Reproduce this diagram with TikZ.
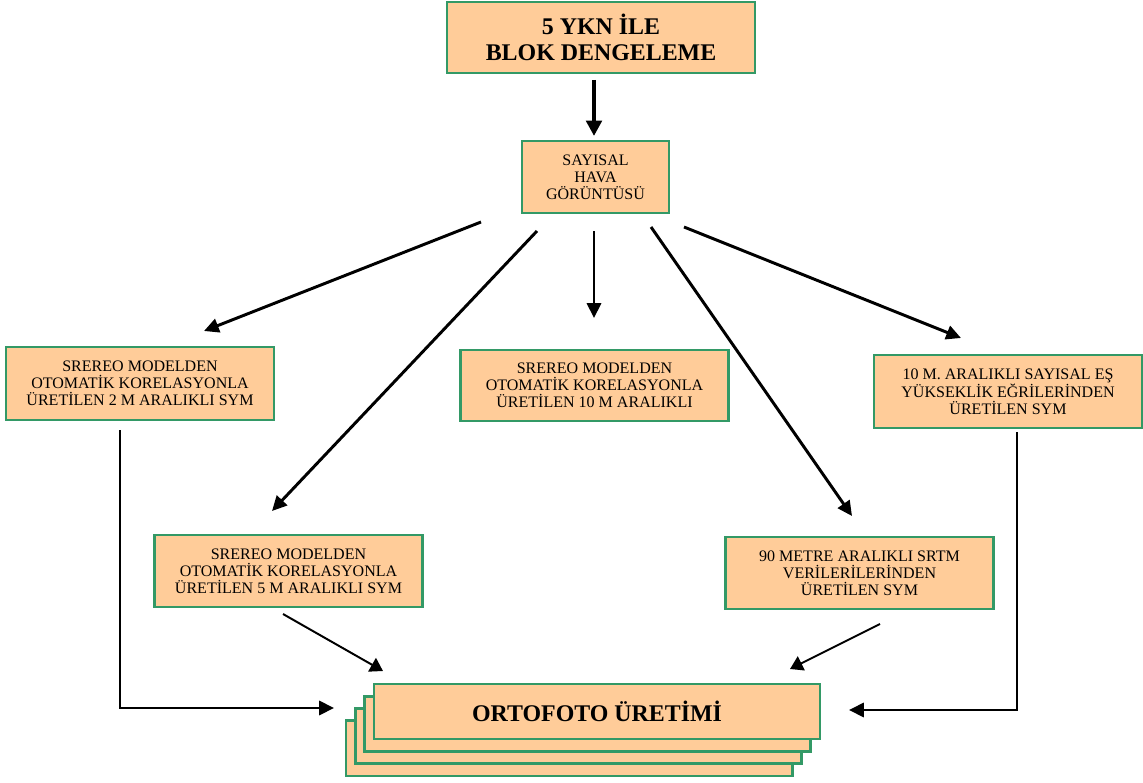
\documentclass[tikz,border=0pt]{standalone}
\usepackage{fontspec}
\setmainfont{Liberation Serif}
\usetikzlibrary{arrows.meta}

\definecolor{yesil}{RGB}{51,153,102}
\definecolor{seftali}{RGB}{255,204,153}

\tikzset{
	kutu/.style={draw=yesil, fill=seftali, line width=2pt, align=center, inner sep=0pt},
	kucuk/.style={kutu, minimum width=6.7cm, minimum height=1.8cm, font=\fontsize{11.4}{12}\selectfont},
	ok/.style={line width=2.1pt, -{Triangle[length=10.5pt, width=10pt]}},
	kalinok/.style={line width=2.8pt, -{Triangle[length=11pt, width=11pt]}},
	inceok/.style={line width=1.4pt, -{Triangle[length=9pt, width=11pt]}}
}

\begin{document}
\begin{tikzpicture}[x=0.025cm, y=-0.025cm]
		%%%%% START %%%%%
		\useasboundingbox (0, 0) rectangle (1143, 782);
		
		% kutular
		\node[kutu, minimum width=7.7cm, minimum height=1.775cm, font=\fontsize{17}{18.5}\selectfont\bfseries] (ykn) at (601, 37.5) {5 YKN İLE\\BLOK DENGELEME};
		\node[kutu, minimum width=3.675cm, minimum height=1.8cm, font=\fontsize{11.4}{12}\selectfont] (say) at (595.5, 177) {SAYISAL\\HAVA\\GÖRÜNTÜSÜ};
		
		\node[kucuk, minimum height=1.825cm] (sym2) at (140, 383.5) {SREREO MODELDEN\\OTOMATİK KORELASYONLA\\ÜRETİLEN 2 M ARALIKLI SYM};
		\node[kucuk, minimum height=1.775cm] (sym10) at (594.5, 385.5) {SREREO MODELDEN\\OTOMATİK KORELASYONLA\\ÜRETİLEN 10 M ARALIKLI};
		\node[kucuk, minimum height=1.825cm] (syme) at (1008, 391.5) {10 M. ARALIKLI SAYISAL EŞ\\YÜKSEKLİK EĞRİLERİNDEN\\ÜRETİLEN SYM};
		\node[kucuk] (sym5) at (288.5, 571) {SREREO MODELDEN\\OTOMATİK KORELASYONLA\\ÜRETİLEN 5 M ARALIKLI SYM};
		\node[kucuk] (srtm) at (859.5, 573) {90 METRE ARALIKLI SRTM\\VERİLERİLERİNDEN\\ÜRETİLEN SYM};
		
		% ortofoto yigini
		\foreach \k in {3,2,1}
			\node[kutu, minimum width=11.15cm, minimum height=1.375cm] (orto\k) at ({597-9.3*\k}, {711.5+12.3*\k}) {};
		\node[kutu, minimum width=11.15cm, minimum height=1.375cm, font=\fontsize{17}{18}\selectfont\bfseries] (orto) at (597, 711.5) {ORTOFOTO ÜRETİMİ};
		
		% ok uclari
		\coordinate (a0) at (594, 80);   \coordinate (b0) at (594, 136);
		\coordinate (a1) at (481, 222);  \coordinate (b1) at (204, 331);
		\coordinate (a2) at (537, 231);  \coordinate (b2) at (272, 511);
		\coordinate (a3) at (594, 231);  \coordinate (b3) at (594, 318);
		\coordinate (a4) at (651, 227);  \coordinate (b4) at (852, 516);
		\coordinate (a5) at (684, 227);  \coordinate (b5) at (961, 338);
		\coordinate (a6) at (120, 430);  \coordinate (b6) at (334, 708);
		\coordinate (a7) at (1017, 432); \coordinate (b7) at (849, 710);
		\coordinate (a8) at (283, 614);  \coordinate (b8) at (383, 671);
		\coordinate (a9) at (880, 624);  \coordinate (b9) at (790, 669);
		
		% oklar
		\draw[kalinok] (a0) -- (b0);
		\foreach \i in {1,...,5}
			\draw[ok] (a\i) -- (b\i);
		\draw[ok] (a6) |- (b6);
		\draw[ok] (a7) |- (b7);
		\draw[inceok] (a8) -- (b8);
		\draw[inceok] (a9) -- (b9);
		
		%%%%% END %%%%%
\end{tikzpicture}
\end{document}
